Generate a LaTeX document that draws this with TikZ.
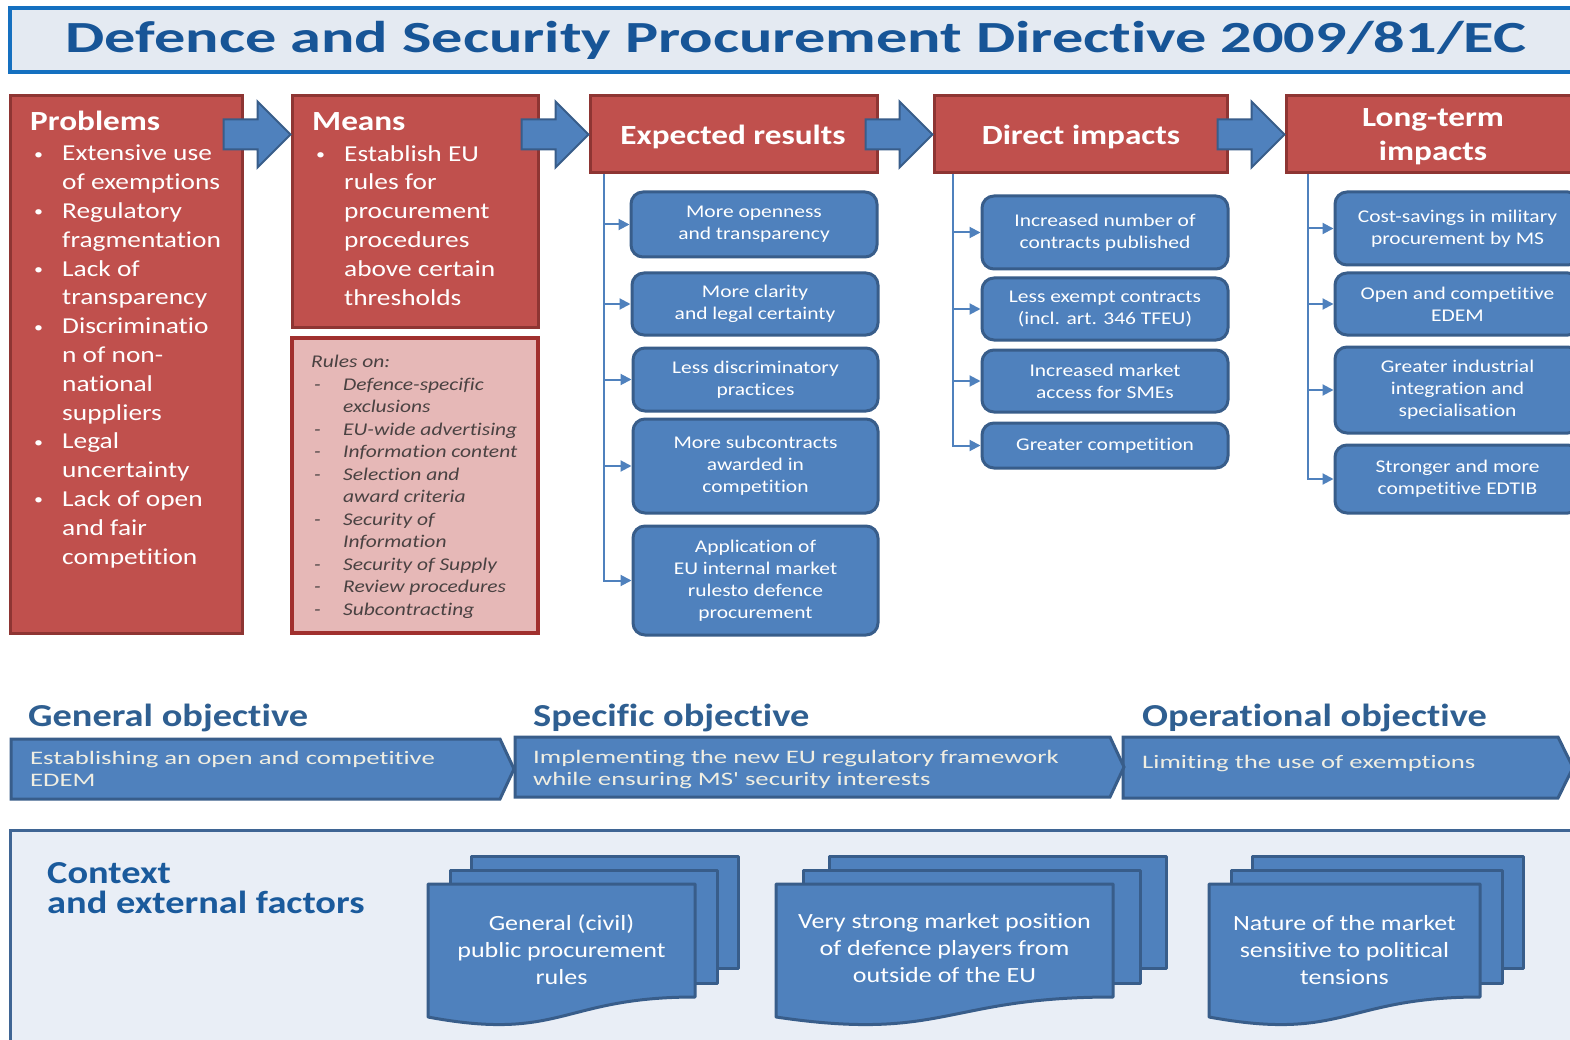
\documentclass[tikz,border=0pt]{standalone}
\usepackage{fontspec}
\setmainfont{Carlito}[FakeStretch=1.2,Ligatures=NoCommon]
\newfontfamily\wfont{Carlito}[FakeStretch=1.4,Ligatures=NoCommon]
\usetikzlibrary{arrows.meta,calc}
\definecolor{rfill}{HTML}{C0504D}
\definecolor{rdark}{HTML}{8E3533}
\definecolor{pfill}{HTML}{E6B8B7}
\definecolor{pdark}{HTML}{A0302E}
\definecolor{bfill}{HTML}{4F81BD}
\definecolor{bdark}{HTML}{385D8A}
\definecolor{tblue}{HTML}{175597}
\definecolor{tframe}{HTML}{1570C0}
\definecolor{tbg}{HTML}{E4EAF2}
\definecolor{objtxt}{HTML}{2F5F91}
\definecolor{cbg}{HTML}{E9EEF6}
\definecolor{cframe}{HTML}{3F6594}
\definecolor{ctxt}{HTML}{1A5A9C}
\definecolor{cream}{HTML}{F0EEE2}
\definecolor{rtxt}{HTML}{4A4242}
\newcommand{\fs}[2]{\fontsize{#1}{#2}\selectfont}
\newcommand{\bul}{\makebox[28pt][l]{\raisebox{1.5pt}{\fontsize{15}{15}\selectfont\textbullet}}}
\newcommand{\ind}{\hspace*{28pt}}
\newcommand{\dsh}{\hspace*{3pt}\makebox[29pt][l]{-}}
\newcommand{\dind}{\hspace*{32pt}}
\tikzset{
 hdr/.style={draw=rdark, fill=rfill, line width=3pt, inner sep=0pt},
 hdrtxt/.style={text=white, font=\bfseries\fs{27.7}{34}, align=center, inner sep=0pt},
 lst/.style={text=white, font=\fs{22.8}{28.8}, align=left, inner sep=0pt, anchor=north west},
 bbox/.style={draw=bdark, fill=bfill, line width=3pt, rounded corners=12pt, text=white, align=center, font=\fs{17.9}{22}, inner sep=0pt},
 conn/.style={draw=bfill, line width=2pt, -{Triangle[length=11pt,width=11pt]}},
 chev/.style={draw=bdark, fill=bfill, line width=3pt, line join=miter},
 objh/.style={text=objtxt, font=\bfseries\fs{32}{36}, anchor=base west, inner sep=0pt},
 objt/.style={text=cream, font=\wfont\fs{19.1}{22}, align=left, anchor=north west, inner sep=0pt},
 sheet/.style={draw=bdark, fill=bfill, line width=3pt, line join=round},
 stxt/.style={text=white, font=\fs{21.7}{27}, align=center, inner sep=0pt},
 pics/barrow/.style={code={\draw[draw=bdark, fill=bfill, line width=2pt, line join=miter]
   (0,-15) -- (34,-15) -- (34,-33) -- (67,0) -- (34,33) -- (34,15) -- (0,15) -- cycle;}}
}
\newcommand{\docstack}[5]{%
 \draw[sheet] (#1+#4,856) rectangle (#1+#2+#4,968);
 \draw[sheet] (#1+#3,870) rectangle (#1+#2+#3,983);
 \draw[sheet] (#1,884) -- (#1+#2,884) -- (#1+#2,997)
   .. controls (#1+#2/2,997) and (#1+#2/2,1042) .. (#1,1017) -- cycle;
 \node[stxt] (#5) at (#1+#2/2,950) {};
}
\begin{document}
\begin{tikzpicture}[x=1pt,y=-1pt]
\useasboundingbox (0,0) rectangle (1570,1040);
\clip (0,0) rectangle (1570,1040);
\fill[white] (0,0) rectangle (1570,1040);

% title
\draw[draw=tframe, fill=tbg, line width=4pt] (10,8) rectangle (1600,72);
\node[text=tblue, font=\wfont\bfseries\fs{44.5}{50}, inner sep=0pt] (title) at (796,40)
  {Defence and Security Procurement Directive 2009/81/EC};

% red header boxes
\node[hdr, minimum width=232, minimum height=537] (prob) at (126,364.5) {};
\node[hdr, minimum width=246, minimum height=231] (means) at (415,211.5) {};
\node[draw=pdark, fill=pfill, line width=4pt, minimum width=246, minimum height=295, inner sep=0pt] (rules) at (415,485.5) {};
\node[hdr, minimum width=287, minimum height=77] (exp) at (733.5,134.5) {};
\node[hdr, minimum width=293, minimum height=77] (direct) at (1080.5,134.5) {};
\node[hdr, minimum width=294, minimum height=77] (long) at (1433,134.5) {};

\node[hdrtxt, anchor=base west] (probh) at (30,131) {Problems};
\node[hdrtxt, anchor=base west] (meansh) at (312,131) {Means};
\node[hdrtxt] (exph) at (733,137) {Expected results};
\node[hdrtxt] (directh) at (1081,137) {Direct impacts};
\node[hdrtxt] (longh) at (1433,137) {Long-term\\impacts};

\node[lst] (probl) at (34,145) {\bul Extensive use\\ \ind of exemptions\\ \bul Regulatory\\ \ind fragmentation\\
 \bul Lack of\\ \ind transparency\\ \bul Discriminatio\\ \ind n of non-\\ \ind national\\ \ind suppliers\\
 \bul Legal\\ \ind uncertainty\\ \bul Lack of open\\ \ind and fair\\ \ind competition};
\node[lst] (meansl) at (316,145) {\bul Establish EU\\ \ind rules for\\ \ind procurement\\ \ind procedures\\ \ind above certain\\ \ind thresholds};
\node[text=rtxt, font=\itshape\fs{17.9}{22.5}, align=left, inner sep=0pt, anchor=north west] (rulesl) at (311,355)
 {Rules on:\\ \dsh Defence-specific\\ \dind exclusions\\ \dsh EU-wide advertising\\ \dsh Information content\\
  \dsh Selection and\\ \dind award criteria\\ \dsh Security of\\ \dind Information\\ \dsh Security of Supply\\
  \dsh Review procedures\\ \dsh Subcontracting};

% block arrows
\pic at ($(means.west |- exp.west)+(-67,0)$) {barrow};
\pic at ($(exp.west)+(-67,0)$) {barrow};
\pic at ($(direct.west)+(-67,0)$) {barrow};
\pic at ($(long.west)+(-67,0)$) {barrow};

% expected results
\node[bbox, minimum width=246, minimum height=65] (e1) at (754,224.5) {More openness\\and transparency};
\node[bbox, minimum width=246, minimum height=62] (e2) at (755,304) {More clarity\\and legal certainty};
\node[bbox, minimum width=245, minimum height=63] (e3) at (755.5,379.5) {Less discriminatory\\practices};
\node[bbox, minimum width=245, minimum height=94] (e4) at (755.5,466) {More subcontracts\\awarded in\\competition};
\node[bbox, minimum width=245, minimum height=109] (e5) at (755.5,580.5) {Application of\\EU internal market\\rulesto defence\\procurement};
\coordinate (ej) at ($(exp.south west)+(15,0)$);
\foreach \n in {e1,e2,e3,e4,e5} \draw[conn] (ej) |- (\n.west);

% direct impacts
\node[bbox, minimum width=246, minimum height=73] (d1) at (1105,232.5) {Increased number of\\contracts published};
\node[bbox, minimum width=246, minimum height=62] (d2) at (1105,309) {Less exempt contracts\\(incl. art. 346 TFEU)};
\node[bbox, minimum width=246, minimum height=62] (d3) at (1105,381) {Increased market\\access for SMEs};
\node[bbox, minimum width=246, minimum height=45] (d4) at (1105,445.5) {Greater competition};
\coordinate (dj) at ($(direct.south west)+(20,0)$);
\foreach \n in {d1,d2,d3,d4} \draw[conn] (dj) |- (\n.west);

% long-term impacts
\node[bbox, minimum width=245, minimum height=73] (l1) at (1457.5,228.5) {Cost-savings in military\\procurement by MS};
\node[bbox, minimum width=245, minimum height=62] (l2) at (1457.5,304) {Open and competitive\\EDEM};
\node[bbox, minimum width=245, minimum height=86] (l3) at (1457.5,390) {Greater industrial\\integration and\\specialisation};
\node[bbox, minimum width=245, minimum height=68] (l4) at (1457.5,479) {Stronger and more\\competitive EDTIB};
\coordinate (lj) at ($(long.south west)+(23,0)$);
\foreach \n in {l1,l2,l3,l4} \draw[conn] (lj) |- (\n.west);

% objectives
\node[objh] (genh) at (28,726) {General objective};
\node[objh] (spech) at (533,726) {Specific objective};
\node[objh] (operh) at (1142,726) {Operational objective};
\draw[chev] (1123,737) -- (1558,737) -- (1573,767.5) -- (1558,798) -- (1123,798) -- cycle;
\draw[chev] (515,737) -- (1110,737) -- (1124,767) -- (1110,797) -- (515,797) -- cycle;
\draw[chev] (11,739) -- (500,739) -- (514,769) -- (500,799) -- (11,799) -- cycle;
\node[objt] (gent) at (30,751) {Establishing an open and competitive\\EDEM};
\node[objt] (spect) at (533,750) {Implementing the new EU regulatory framework\\while ensuring MS' security interests};
\node[objt, anchor=base west] (opert) at (1142,768) {Limiting the use of exemptions};

% context
\draw[draw=cframe, fill=cbg, line width=3pt] (10,830) rectangle (1600,1070);
\node[text=ctxt, font=\bfseries\fs{32}{30}, align=left, inner sep=0pt, anchor=north west] (ctxh) at (47,862)
  {Context\\and external factors};
\docstack{428}{267}{22}{43}{c1}
\docstack{776}{337}{27}{53}{c2}
\docstack{1209}{271}{22}{43}{c3}
\node[stxt] (c1t) at (c1) {General (civil)\\public procurement\\rules};
\node[stxt] (c2t) at ($(c2)+(0,-2)$) {Very strong market position\\of defence players from\\outside of the EU};
\node[stxt] (c3t) at (c3) {Nature of the market\\sensitive to political\\tensions};
\end{tikzpicture}
\end{document}
